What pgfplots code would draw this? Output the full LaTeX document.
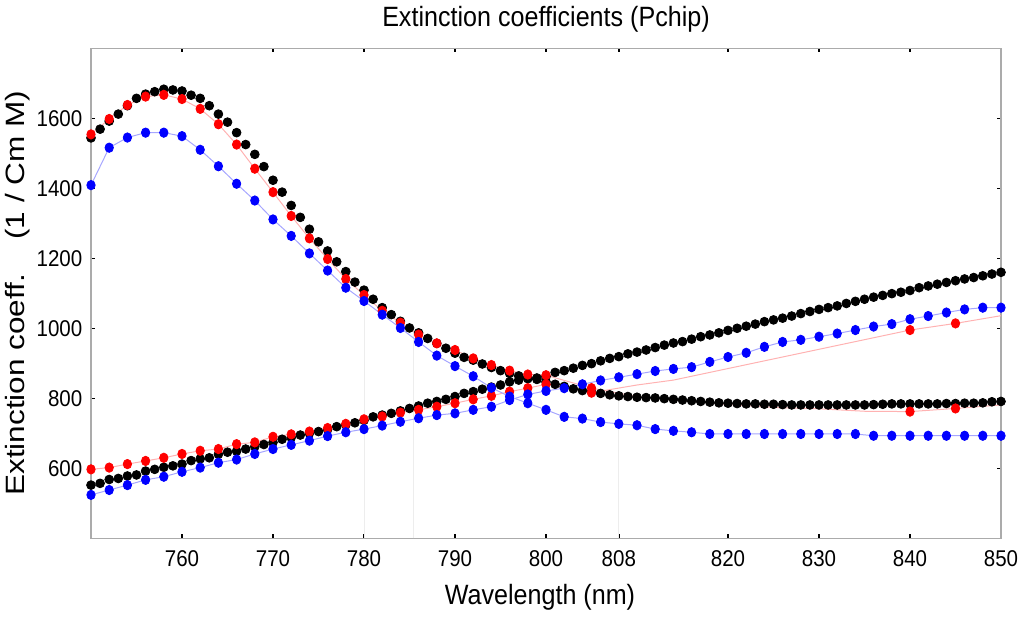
\documentclass[border=0pt]{standalone}
\usepackage{fontspec}
\setmainfont{Liberation Sans}[FakeStretch=0.9]
\newfontfamily\ylabfont{Liberation Sans}[FakeStretch=1.19]
\usepackage{pgfplots}
\usepackage{pgfplotstable}
\pgfplotsset{compat=1.18}

\pgfplotstableread{
x y
750 1544
751 1569
752 1592
753 1612
754 1636
755 1657
756 1669
757 1676
758 1683
759 1681
760 1678
761 1666
762 1657
763 1636
764 1612
765 1589
766 1559
767 1525
768 1497
769 1462
770 1423
771 1389
772 1351
773 1317
774 1283
775 1247
776 1221
777 1190
778 1162
779 1132
780 1109
781 1083
782 1059
783 1039
784 1020
785 1001
786 987
787 971
788 957
789 943
790 929
791 917
792 909
793 898
794 888
795 879
796 871
797 864
798 860
799 854
800 847
801 840
802 834
803 827
804 822
805 818
806 814
807 810
808 807
809 805
810 803
811 802
812 801
813 799
814 797
815 795
816 793
817 791
818 789
819 787
820 786
821 785
822 784
823 784
824 783
825 783
826 782
827 781
828 781
829 781
830 781
831 781
832 781
833 781
834 781
835 781
836 782
837 783
838 784
839 784
840 784
841 784
842 784
843 784
844 785
845 785
846 786
847 786
848 787
849 790
850 791
}\blackA

\pgfplotstableread{
x y
750 552
751 557
752 568
753 571
754 578
755 581
756 592
757 597
758 603
759 607
760 612
761 622
762 627
763 630
764 640
765 646
766 649
767 655
768 662
769 668
770 674
771 683
772 688
773 695
774 700
775 705
776 711
777 719
778 724
779 730
780 737
781 747
782 752
783 757
784 764
785 771
786 778
787 786
788 791
789 797
790 805
791 814
792 819
793 826
794 832
795 838
796 847
797 852
798 856
799 858
800 862
801 874
802 879
803 886
804 894
805 899
806 907
807 914
808 919
809 927
810 932
811 938
812 945
813 952
814 958
815 962
816 969
817 976
818 981
819 987
820 994
821 1000
822 1006
823 1012
824 1019
825 1024
826 1029
827 1035
828 1042
829 1048
830 1054
831 1059
832 1064
833 1071
834 1077
835 1083
836 1089
837 1094
838 1099
839 1103
840 1108
841 1116
842 1121
843 1126
844 1131
845 1136
846 1141
847 1145
848 1150
849 1155
850 1160
}\blackB

\pgfplotstableread{
x y
750 1554
752 1598
754 1638
756 1662
758 1667
760 1655
762 1627
764 1583
766 1525
768 1456
770 1389
772 1321
774 1257
776 1198
778 1141
780 1095
782 1050
784 1016
786 982
788 957
790 938
792 914
794 895
796 879
798 868
800 866
805 829
840 762
845 771
}\redA

\pgfplotstableread{
x y
750 597
752 602
754 612
756 621
758 630
760 641
762 650
764 655
766 669
768 674
770 690
772 697
774 705
776 715
778 727
780 740
782 748
784 759
786 767
788 776
790 786
792 797
794 807
796 819
798 829
800 840
805 816
840 995
845 1014
}\redB

\pgfplotstableread{
x y
750 1554
752 1598
754 1638
756 1662
758 1667
760 1655
762 1627
764 1583
766 1525
768 1456
770 1389
772 1321
774 1257
776 1198
778 1141
780 1095
782 1050
784 1016
786 982
788 957
790 938
792 914
794 895
796 879
798 868
800 866
805 829
810 805
814 795
820 782
825 774
830 770
835 763
840 762
845 771
850 781
}\redlineA

\pgfplotstableread{
x y
750 597
752 602
754 612
756 621
758 630
760 641
762 650
764 655
766 669
768 674
770 690
772 697
774 705
776 715
778 727
780 740
782 748
784 759
786 767
788 776
790 786
792 797
794 807
796 819
798 829
800 840
805 816
810 838
814 852
840 995
845 1014
850 1036
}\redlineB

\pgfplotstableread{
x y
750 1409
752 1516
754 1545
756 1559
758 1559
760 1549
762 1510
764 1463
766 1413
768 1365
770 1311
772 1264
774 1214
776 1165
778 1116
780 1078
782 1039
784 1001
786 961
788 922
790 892
792 863
794 830
796 805
798 786
800 767
802 747
804 742
806 732
808 727
810 723
812 712
814 707
816 703
818 698
820 698
822 698
824 698
826 698
828 698
830 698
832 698
834 698
836 693
838 693
840 693
842 693
844 693
846 693
848 693
850 693
}\blueA

\pgfplotstableread{
x y
750 524
752 538
754 552
756 567
758 576
760 590
762 602
764 616
766 625
768 641
770 655
772 667
774 679
776 692
778 703
780 712
782 722
784 733
786 743
788 752
790 757
792 767
794 776
796 795
798 811
800 821
802 829
804 840
806 851
808 860
810 869
812 878
814 884
816 889
818 904
820 918
822 930
824 947
826 961
828 967
830 976
832 985
834 995
836 1005
838 1012
840 1026
842 1035
844 1045
846 1054
848 1059
850 1059
}\blueB

\begin{document}
\begin{tikzpicture}
\path[use as bounding box] (-45.5bp,-39.35bp) rectangle (466.5bp,269.15bp);
\begin{axis}[
  scale only axis, width=455bp, height=245bp,
  at={(0,0)}, anchor=south west,
  xmin=750, xmax=850, ymin=400, ymax=1800,
  xtick={760,770,780,790,800,808,820,830,840,850},
  ytick={600,800,1000,1200,1400,1600},
  tick align=inside, major tick length=2bp,
  tick style={black, line width=0.7bp},
  axis line style={draw=black!33, line width=0.7bp},
  /pgf/number format/assume math mode=true,
  /pgf/number format/1000 sep={},
  ticklabel style={font=\fontsize{11.4bp}{13bp}\selectfont},
  xticklabel style={anchor=north, inner sep=0pt, yshift=-5.85bp},
  yticklabel style={anchor=east, inner sep=0pt, xshift=-4.15bp},
  every axis title shift=0pt,
  title={Extinction coefficients (Pchip)},
  title style={at={(axis description cs:0.5,1.0435)}, anchor=base, inner sep=0pt,
    font=\fontsize{13.95bp}{16bp}\selectfont},
  xlabel={Wavelength (nm)},
  xlabel style={at={(axis description cs:0.4934,-0.1361)}, anchor=base, inner sep=0pt,
    font=\fontsize{13.95bp}{16bp}\selectfont},
  ylabel={Extinction coeff.\hspace{17bp}(1 / Cm M)},
  ylabel style={at={(axis description cs:-0.0736,0.5)}, anchor=base, inner sep=0pt,
    font=\ylabfont\fontsize{13.25bp}{16bp}\selectfont},
]
\addplot[ycomb, black!7, line width=0.5bp, mark=none, forget plot] coordinates {(780,1100) (785.4,1000) (808,805)};
\addplot[red!30, line width=0.5bp, mark=none] table[x=x,y=y] {\redlineA};
\addplot[red!30, line width=0.5bp, mark=none] table[x=x,y=y] {\redlineB};
\addplot[blue!35, line width=0.5bp, mark=none] table[x=x,y=y] {\blueA};
\addplot[blue!35, line width=0.5bp, mark=none] table[x=x,y=y] {\blueB};
\addplot[only marks, mark=*, mark size=2.2bp, black] table[x=x,y=y] {\blackA};
\addplot[only marks, mark=*, mark size=2.2bp, black] table[x=x,y=y] {\blackB};
\addplot[only marks, mark=*, mark size=2.1bp, red, mark options={yscale=1.12}] table[x=x,y=y] {\redA};
\addplot[only marks, mark=*, mark size=2.1bp, red, mark options={yscale=1.12}] table[x=x,y=y] {\redB};
\addplot[only marks, mark=*, mark size=2.1bp, blue, mark options={yscale=1.12}] table[x=x,y=y] {\blueA};
\addplot[only marks, mark=*, mark size=2.1bp, blue, mark options={yscale=1.12}] table[x=x,y=y] {\blueB};
\end{axis}
\end{tikzpicture}
\end{document}
